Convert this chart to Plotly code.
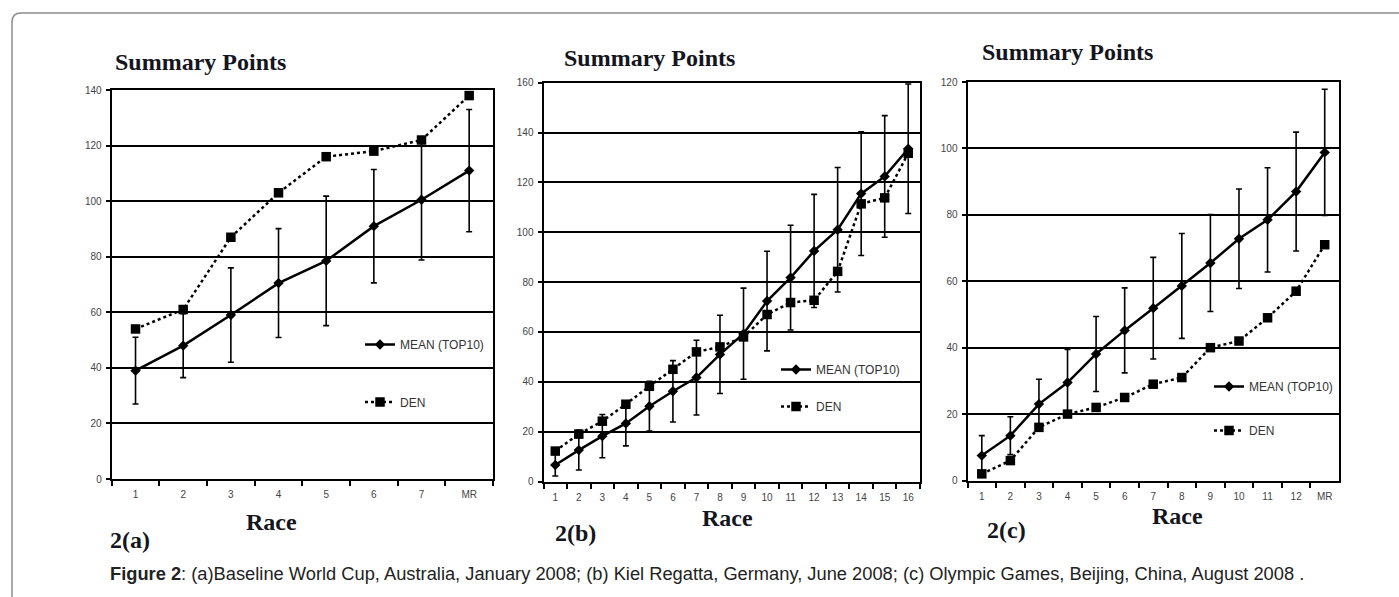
import plotly.graph_objects as go

# ---------------- data ----------------
races_a = ["1", "2", "3", "4", "5", "6", "7", "MR"]
mean_a = [39, 48, 59, 70.5, 78.5, 91, 100.5, 111]
err_a = [12, 11.5, 17, 19.6, 23.3, 20.4, 21.7, 22]
den_a = [54, 61, 87, 103, 116, 118, 122, 138]

races_b = ["1", "2", "3", "4", "5", "6", "7", "8", "9", "10", "11", "12", "13", "14", "15", "16"]
mean_b = [6.6, 12.6, 18.2, 23.3, 30.2, 36.2, 41.7, 51, 59.3, 72.4, 81.8, 92.5, 101, 115.5, 122.4, 133.5]
err_b = [4.4, 8, 8.7, 9, 10, 12.3, 15, 15.7, 18.3, 20, 21, 22.7, 25, 24.8, 24.4, 26]
den_b = [12.2, 19, 24.2, 31, 38.2, 45, 52, 54, 58, 67, 71.8, 72.7, 84.3, 111.4, 113.8, 131.7]

races_c = ["1", "2", "3", "4", "5", "6", "7", "8", "9", "10", "11", "12", "MR"]
mean_c = [7.5, 13.5, 23, 29.5, 38.1, 45.2, 51.9, 58.6, 65.5, 72.8, 78.5, 87, 98.8]
err_c = [6, 5.7, 7.5, 10, 11.3, 12.8, 15.3, 15.8, 14.6, 15, 15.7, 17.9, 19]
den_c = [2, 6, 16, 20, 22, 25, 29, 31, 40, 42, 49, 57, 71]

y_max = [140, 160, 120]
panel_labels = ["2(a)", "2(b)", "2(c)"]
title_text = "Summary Points"
xlabel_text = "Race"
mean_name = "MEAN (TOP10)"
den_name = "DEN"

W, H = 1399, 597

def px(x):
    return x / W

def py(y):
    return 1 - y / H

fig = go.Figure()

panels = [
    (races_a, mean_a, err_a, den_a),
    (races_b, mean_b, err_b, den_b),
    (races_c, mean_c, err_c, den_c),
]

# pixel geometry of the three plot areas (left, right, top, bottom)
geom = [
    (111.7, 493.0, 90.0, 479.0),
    (543.5, 920.0, 82.7, 481.5),
    (967.5, 1339.0, 82.0, 480.5),
]
legend_pos = [(360, 330, 38.5), (776, 355, 18), (1209, 372, 25)]

tick_font = dict(family="Liberation Sans, Arial", size=10, color="#444")
legend_font = dict(family="Liberation Sans, Arial", size=12, color="#333")

for i, (races, mean, err, den) in enumerate(panels):
    xa = "x" if i == 0 else f"x{i+1}"
    ya = "y" if i == 0 else f"y{i+1}"
    lg = "legend" if i == 0 else f"legend{i+1}"
    fig.add_trace(go.Scatter(
        x=races, y=den, name=den_name, mode="lines+markers",
        line=dict(color="black", width=2.5, dash="dot"),
        marker=dict(symbol="square", size=9.5, color="black"),
        xaxis=xa, yaxis=ya, legend=lg, legendgroup=f"den{i}", legendrank=2,
        cliponaxis=False,
    ))
    fig.add_trace(go.Scatter(
        x=races, y=mean, name=mean_name, mode="lines+markers",
        line=dict(color="black", width=2.5),
        marker=dict(symbol="diamond", size=8, color="black"),
        error_y=dict(type="data", array=err, visible=True, color="black", thickness=1.6, width=3),
        xaxis=xa, yaxis=ya, legend=lg, legendgroup=f"mean{i}", legendrank=1,
        cliponaxis=False,
    ))

layout = dict(
    width=W, height=H,
    margin=dict(l=0, r=0, t=0, b=0, autoexpand=False),
    paper_bgcolor="white", plot_bgcolor="white",
    showlegend=True,
)

for i, (races, mean, err, den) in enumerate(panels):
    l, r, t, b = geom[i]
    xk = "xaxis" if i == 0 else f"xaxis{i+1}"
    yk = "yaxis" if i == 0 else f"yaxis{i+1}"
    ya = "y" if i == 0 else f"y{i+1}"
    xa = "x" if i == 0 else f"x{i+1}"
    layout[xk] = dict(
        domain=[px(l), px(r)], anchor=ya, type="category",
        range=[-0.5, len(races) - 0.5],
        tickson="boundaries", ticks="outside", ticklen=5, tickwidth=2, tickcolor="black",
        showline=True, linecolor="black", linewidth=2, mirror=True,
        showgrid=False, zeroline=False, tickfont=tick_font, fixedrange=True,
        ticklabelstandoff=5, automargin=False,
    )
    layout[yk] = dict(
        domain=[py(b), py(t)], anchor=xa,
        range=[0, y_max[i]], dtick=20, tick0=0,
        ticks="outside", ticklen=4, tickwidth=2, tickcolor="black",
        showline=True, linecolor="black", linewidth=2, mirror=True,
        showgrid=True, gridcolor="black", gridwidth=2, zeroline=False,
        tickfont=tick_font, fixedrange=True, ticklabelstandoff=2, automargin=False,
    )
    lx, ly, gap = legend_pos[i]
    lk = "legend" if i == 0 else f"legend{i+1}"
    layout[lk] = dict(
        x=px(lx), y=py(ly), xanchor="left", yanchor="top",
        bgcolor="rgba(0,0,0,0)", borderwidth=0, font=legend_font,
        tracegroupgap=gap, traceorder="grouped", itemwidth=30,
    )

fig.update_layout(**layout)

serif = "Liberation Serif, Times New Roman, serif"
ann = []
title_pos = [(200, 62), (649, 58), (1067, 52)]
race_pos = [(271, 522), (727, 518), (1177, 516)]
lab_pos = [(130, 540), (575, 533), (1007, 530)]
for i in range(3):
    ann.append(dict(text=f"<b>{title_text}</b>", x=px(title_pos[i][0]), y=py(title_pos[i][1]),
                    xref="paper", yref="paper", showarrow=False, xanchor="center", yanchor="middle",
                    font=dict(family=serif, size=24, color="#151520")))
    ann.append(dict(text=f"<b>{xlabel_text}</b>", x=px(race_pos[i][0]), y=py(race_pos[i][1]),
                    xref="paper", yref="paper", showarrow=False, xanchor="center", yanchor="middle",
                    font=dict(family=serif, size=24, color="#151520")))
    ann.append(dict(text=f"<b>{panel_labels[i]}</b>", x=px(lab_pos[i][0]), y=py(lab_pos[i][1]),
                    xref="paper", yref="paper", showarrow=False, xanchor="center", yanchor="middle",
                    font=dict(family=serif, size=24, color="#151520")))

caption = ("<b>Figure 2</b>: (a)Baseline World Cup, Australia, January 2008; (b) Kiel Regatta, Germany, "
           "June 2008; (c) Olympic Games, Beijing, China, August 2008 .")
ann.append(dict(text=caption, x=px(108), y=py(573), xref="paper", yref="paper", showarrow=False,
                xanchor="left", yanchor="middle",
                font=dict(family="Liberation Sans, Arial", size=18.3, color="#222")))
fig.update_layout(annotations=ann)

# outer rounded frame
x0, y0, rr = 12, 13, 9
path = (f"M {px(x0)},{py(H + 20)} L {px(x0)},{py(y0 + rr)} "
        f"Q {px(x0)},{py(y0)} {px(x0 + rr)},{py(y0)} L {px(W + 20)},{py(y0)}")
fig.add_shape(type="path", path=path, xref="paper", yref="paper",
              line=dict(color="#8c8c8c", width=1.5), layer="below")

fig.write_html("out.html", config={"displayModeBar": False},
               post_script="document.body.style.margin='0';document.body.style.overflow='hidden';")
